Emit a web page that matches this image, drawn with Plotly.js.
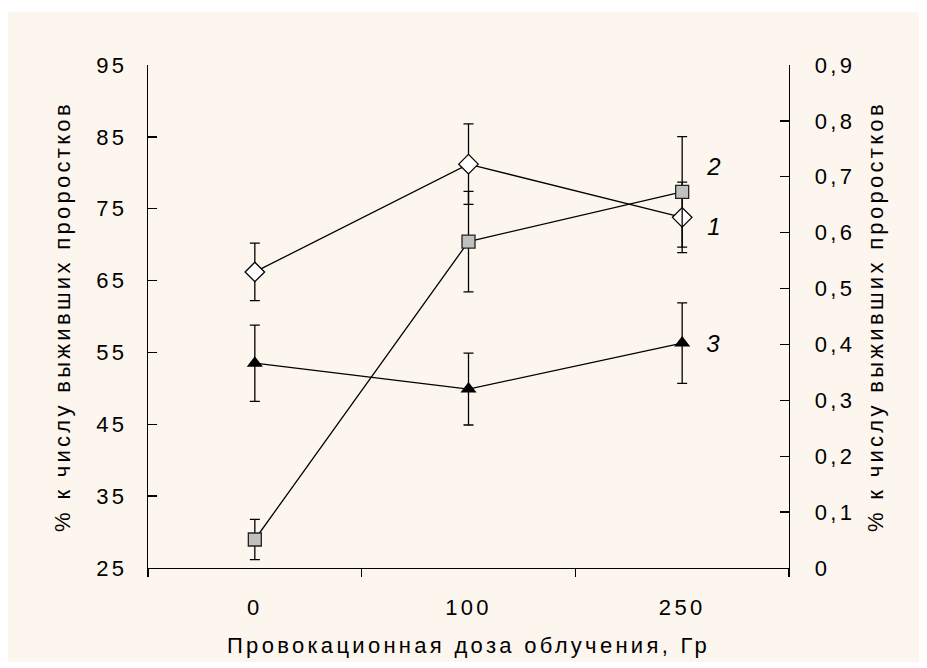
<!DOCTYPE html>
<html>
<head>
<meta charset="utf-8">
<script src="https://cdn.plot.ly/plotly-3.0.1.min.js"></script>
<style>
  html, body { margin: 0; padding: 0; background: #ffffff; }
  #chart { position: absolute; left: 8px; top: 12px; width: 911px; height: 650px; }
  #chart .main-svg text { letter-spacing: 3.3px; }
</style>
</head>
<body>
<div id="chart"></div>
<script>
// Categories (provocation dose, Gy)
const categories = ['0', '100', '250'];

// Series 1 (diamonds), left axis, %
const series1 = [66.2, 81.2, 73.8];
const series1Err = [4.0, 5.6, 4.9];

// Series 2 (grey squares), right axis
const series2 = [0.051, 0.584, 0.673];
const series2Err = [0.036, 0.090, 0.099];

// Series 3 (black triangles), left axis, %
const series3 = [53.5, 49.9, 56.3];
const series3Err = [5.3, 5.0, 5.6];

// Curve labels
const curveLabels = ['1', '2', '3'];

const fontFamily = '"Liberation Sans", Arial, sans-serif';
const cream = '#fdf6ef';

const errStyle = { type: 'data', visible: true, color: '#000', thickness: 1.3, width: 5 };

const traces = [
  {
    x: categories, y: series1, yaxis: 'y', type: 'scatter', mode: 'lines+markers',
    line: { color: '#000', width: 1.3 },
    marker: { symbol: 'diamond', size: 15, color: '#ffffff', line: { color: '#000', width: 1.3 } },
    error_y: Object.assign({ array: series1Err }, errStyle),
    cliponaxis: false, showlegend: false
  },
  {
    x: categories, y: series2, yaxis: 'y2', type: 'scatter', mode: 'lines+markers',
    line: { color: '#000', width: 1.3 },
    marker: { symbol: 'square', size: 13, color: '#c0c0c0', line: { color: '#222', width: 1.3 } },
    error_y: Object.assign({ array: series2Err }, errStyle),
    cliponaxis: false, showlegend: false
  },
  {
    x: categories, y: series3, yaxis: 'y', type: 'scatter', mode: 'lines+markers',
    line: { color: '#000', width: 1.3 },
    marker: { symbol: 'triangle-up', size: 14, color: '#000', line: { color: '#000', width: 0 } },
    error_y: Object.assign({ array: series3Err }, errStyle),
    cliponaxis: false, showlegend: false
  }
];

const lastIdx = categories.length - 1;
const labelFont = { family: fontFamily, size: 24, color: '#000' };

const layout = {
  width: 911, height: 650,
  paper_bgcolor: cream, plot_bgcolor: cream,
  margin: { l: 140, r: 130, t: 53, b: 94, pad: 0 },
  separators: ', ',
  font: { family: fontFamily, size: 22, color: '#000' },
  showlegend: false,
  xaxis: {
    type: 'category', range: [-0.5, 2.5],
    showline: true, linecolor: '#000', linewidth: 1.3,
    ticks: 'outside', tickson: 'boundaries', ticklen: 8, tickwidth: 1.3, tickcolor: '#000',
    showgrid: false, zeroline: false,
    ticklabelstandoff: 19,
    tickfont: { size: 22 },
    title: { text: 'Провокационная доза облучения, Гр', font: { size: 22 }, standoff: 19 }
  },
  yaxis: {
    range: [25, 95], tick0: 25, dtick: 10,
    showline: true, linecolor: '#000', linewidth: 1.3,
    ticks: 'inside', ticklen: 9, tickwidth: 1.3, tickcolor: '#000',
    showgrid: false, zeroline: false,
    ticklabelstandoff: 15,
    tickfont: { size: 22 },
    title: { text: '% к числу выживших проростков', font: { size: 22 }, standoff: 26 }
  },
  yaxis2: {
    overlaying: 'y', side: 'right', anchor: 'x',
    range: [0, 0.9], tick0: 0, dtick: 0.1,
    showline: true, linecolor: '#000', linewidth: 1.3,
    ticks: 'inside', ticklen: 9, tickwidth: 1.3, tickcolor: '#000',
    showgrid: false, zeroline: false,
    ticklabelstandoff: 20,
    tickfont: { size: 22 },
    title: { text: '% к числу выживших проростков', font: { size: 22 }, standoff: 23 }
  },
  annotations: [
    { x: lastIdx, y: series1[lastIdx], xref: 'x', yref: 'y', text: '<i>' + curveLabels[0] + '</i>',
      showarrow: false, xshift: 33, yshift: -9, font: labelFont },
    { x: lastIdx, y: series2[lastIdx], xref: 'x', yref: 'y2', text: '<i>' + curveLabels[1] + '</i>',
      showarrow: false, xshift: 33, yshift: 25, font: labelFont },
    { x: lastIdx, y: series3[lastIdx], xref: 'x', yref: 'y', text: '<i>' + curveLabels[2] + '</i>',
      showarrow: false, xshift: 33, yshift: 0, font: labelFont }
  ]
};

Plotly.newPlot('chart', traces, layout, { staticPlot: true, displayModeBar: false });
</script>
</body>
</html>
